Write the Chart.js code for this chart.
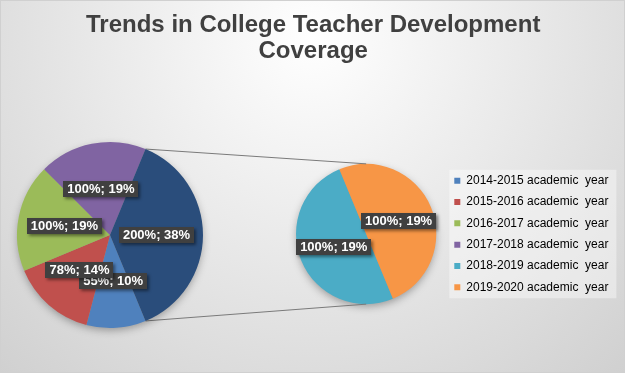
<!DOCTYPE html>
<html><head><meta charset="utf-8">
<script src="https://cdn.jsdelivr.net/npm/chart.js@4"></script>
<style>
html,body{margin:0;padding:0;background:#fff;}
#wrap{position:relative;width:625px;height:373px;overflow:hidden;}
#wrap canvas{position:absolute;}
</style></head><body>
<div id="wrap">
<canvas id="main" width="625" height="373" style="left:0;top:0;"></canvas>
<canvas id="left" width="400" height="273" style="left:0;top:100px;pointer-events:none;"></canvas>
</div>
<script>
// ---- data ----
const categories = [
  '2014-2015 academic  year',
  '2015-2016 academic  year',
  '2016-2017 academic  year',
  '2017-2018 academic  year',
  '2018-2019 academic  year',
  '2019-2020 academic  year'
];
const values = [55, 78, 100, 100, 100, 100];   // first number of each data label (%)
const shares = [10, 14, 19, 19, 19, 19];       // second number of each data label (% of whole)
const colors = ['#4F81BD', '#C0504D', '#9BBB59', '#8064A2', '#4BACC6', '#F79646'];
const otherColor = '#2A4D7B';
const splitAt = 4;                              // last two points go to the second pie
const titleLines = ['Trends in College Teacher Development', 'Coverage'];

// ---- derived series ----
const sum = a => a.reduce((s, v) => s + v, 0);
const leftLabels = categories.slice(0, splitAt).concat(['Other']);
const leftValues = values.slice(0, splitAt).concat([sum(values.slice(splitAt))]);
const leftShares = shares.slice(0, splitAt).concat([sum(shares.slice(splitAt))]);
const leftColors = colors.slice(0, splitAt).concat([otherColor]);
const rightLabels = categories.slice(splitAt);
const rightValues = values.slice(splitAt);
const rightShares = shares.slice(splitAt);
const rightColors = colors.slice(splitAt);
// the "Other" slice is centred on the right-hand side of the first pie
const rotation = 90 + 180 * leftValues[leftValues.length - 1] / sum(leftValues);

const FONT = '"Liberation Sans", Arial, Helvetica, sans-serif';
Chart.defaults.font.family = FONT;

// ---- layout constants ----
const W = 625, H = 373;
const LEFT_TOP = 100;            // top offset of the left canvas
const PAD_L = 8;                 // outer left padding of the main chart
const PIE2_LEFT = 296, PIE2_RIGHT = 437;
const LEGEND_X = 445.7;          // left edge of legend box
const LEG_PAD = 9.3, LEG_FS = 12, LEG_BOX = 6;

function measure(text, font) {
  const c = document.createElement('canvas').getContext('2d');
  c.font = font;
  return c.measureText(text).width;
}
const legendTextW = Math.max(...categories.map(t => measure(t, LEG_FS + 'px ' + FONT)));
const legendW = 2 * LEG_PAD + LEG_BOX + LEG_FS / 2 + legendTextW;

// ---- plugins ----
function spacer(position, width) {
  return {
    position, weight: 0, fullSize: false, options: { display: false },
    left: 0, top: 0, right: 0, bottom: 0, width: 0, height: 0,
    isHorizontal() { return false; },
    update(maxW, maxH) { this.width = width; this.height = maxH; return this.height; },
    draw() {}
  };
}
const spacerPlugin = {
  id: 'spacers',
  beforeInit(chart) {
    Chart.layouts.addBox(chart, spacer('left', PIE2_LEFT - PAD_L));
    Chart.layouts.addBox(chart, spacer('right', LEGEND_X - PIE2_RIGHT));
  }
};

const bgPlugin = {
  id: 'bg',
  beforeDraw(chart) {
    const { ctx, width, height } = chart;
    ctx.save();
    const g = ctx.createRadialGradient(width * 0.5, height * 0.1, 0, width * 0.5, height * 0.1, width * 0.78);
    g.addColorStop(0, '#ffffff');
    g.addColorStop(1, '#cdcdcd');
    ctx.fillStyle = g;
    ctx.fillRect(0, 0, width, height);
    ctx.strokeStyle = '#d0d0d0';
    ctx.lineWidth = 1;
    ctx.strokeRect(0.5, 0.5, width - 1, height - 1);
    // legend background
    const hb = chart.legend && chart.legend.legendHitBoxes;
    if (hb && hb.length) {
      const x0 = hb[0].left - 5;
      const x1 = Math.max(...hb.map(b => b.left + b.width)) + 8;
      const y0 = hb[0].top - 5;
      const y1 = hb[hb.length - 1].top + hb[hb.length - 1].height + 5;
      ctx.fillStyle = 'rgba(255,255,255,0.4)';
      ctx.fillRect(x0, y0, x1 - x0, y1 - y0);
    }
    ctx.restore();
  }
};

const shadowPlugin = {
  id: 'pieShadow',
  beforeDatasetsDraw(chart) {
    const a = chart.getDatasetMeta(0).data[0];
    if (!a) return;
    const { x, y, outerRadius } = a.getProps(['x', 'y', 'outerRadius'], true);
    const ctx = chart.ctx;
    ctx.save();
    ctx.shadowColor = 'rgba(0,0,0,0.35)';
    ctx.shadowBlur = 9;
    ctx.shadowOffsetY = 3;
    ctx.beginPath();
    ctx.arc(x, y, outerRadius - 1, 0, Math.PI * 2);
    ctx.fillStyle = '#999';
    ctx.fill();
    ctx.restore();
  }
};

const labelPlugin = {
  id: 'boxLabels',
  afterDatasetsDraw(chart, args, opts) {
    const ctx = chart.ctx;
    const meta = chart.getDatasetMeta(0);
    const data = chart.data.datasets[0].data;
    ctx.save();
    ctx.font = 'bold 13px ' + FONT;
    ctx.textAlign = 'center';
    ctx.textBaseline = 'middle';
    meta.data.forEach((arc, i) => {
      const p = arc.tooltipPosition(true);
      const text = data[i] + '%; ' + opts.shares[i] + '%';
      const w = ctx.measureText(text).width + 8, h = 16;
      ctx.save();
      ctx.shadowColor = 'rgba(0,0,0,0.45)';
      ctx.shadowBlur = 3;
      ctx.shadowOffsetX = 2;
      ctx.shadowOffsetY = 2;
      ctx.fillStyle = '#404040';
      ctx.fillRect(Math.round(p.x - w / 2), Math.round(p.y - h / 2), Math.round(w), h);
      ctx.restore();
      ctx.fillStyle = '#ffffff';
      ctx.fillText(text, p.x, p.y + 0.5);
    });
    ctx.restore();
  }
};

// ---- second pie + title + legend ----
const mainChart = new Chart(document.getElementById('main'), {
  type: 'pie',
  data: {
    labels: rightLabels,
    datasets: [{ data: rightValues, backgroundColor: rightColors, borderWidth: 0 }]
  },
  options: {
    responsive: false,
    animation: false,
    rotation: rotation,
    layout: { padding: { left: PAD_L, right: W - LEGEND_X - legendW, top: 0, bottom: H - 304.5 } },
    plugins: {
      title: {
        display: true,
        text: titleLines,
        color: '#404040',
        font: { size: 24, weight: 'bold', lineHeight: 1.1 },
        padding: { top: 12.1, bottom: 163.5 - 12.1 - 2 * 26.4 }
      },
      legend: {
        position: 'right',
        fullSize: false,
        onClick: null,
        labels: {
          boxWidth: LEG_BOX,
          boxHeight: LEG_BOX,
          padding: LEG_PAD,
          color: '#595959',
          font: { size: LEG_FS },
          generateLabels: () => categories.map((c, i) => ({
            text: c, fillStyle: colors[i], strokeStyle: colors[i], lineWidth: 0, hidden: false, index: i
          }))
        }
      },
      tooltip: { enabled: false },
      boxLabels: { shares: rightShares }
    }
  },
  plugins: [spacerPlugin, bgPlugin, shadowPlugin, labelPlugin]
});

// ---- connector lines (drawn on the first-pie canvas) ----
const connectorPlugin = {
  id: 'connectors',
  beforeDatasetsDraw(chart) {
    const meta = chart.getDatasetMeta(0);
    const other = meta.data[meta.data.length - 1];
    const o = other.getProps(['x', 'y', 'startAngle', 'endAngle', 'outerRadius'], true);
    const r = mainChart.getDatasetMeta(0).data[0].getProps(['x', 'y', 'outerRadius'], true);
    const ctx = chart.ctx;
    ctx.save();
    ctx.strokeStyle = '#7a7a7a';
    ctx.lineWidth = 1;
    ctx.beginPath();
    ctx.moveTo(o.x + o.outerRadius * Math.cos(o.startAngle), o.y + o.outerRadius * Math.sin(o.startAngle));
    ctx.lineTo(r.x, r.y - r.outerRadius - LEFT_TOP);
    ctx.moveTo(o.x + o.outerRadius * Math.cos(o.endAngle), o.y + o.outerRadius * Math.sin(o.endAngle));
    ctx.lineTo(r.x, r.y + r.outerRadius - LEFT_TOP);
    ctx.stroke();
    ctx.restore();
  }
};

// ---- first pie ----
new Chart(document.getElementById('left'), {
  type: 'pie',
  data: {
    labels: leftLabels,
    datasets: [{ data: leftValues, backgroundColor: leftColors, borderWidth: 0 }]
  },
  options: {
    responsive: false,
    animation: false,
    rotation: rotation,
    layout: { padding: { left: 17, right: 400 - 203, top: 142 - LEFT_TOP, bottom: 273 - (328 - LEFT_TOP) } },
    plugins: {
      legend: { display: false },
      title: { display: false },
      tooltip: { enabled: false },
      boxLabels: { shares: leftShares }
    }
  },
  plugins: [connectorPlugin, shadowPlugin, labelPlugin]
});
</script>
</body></html>
